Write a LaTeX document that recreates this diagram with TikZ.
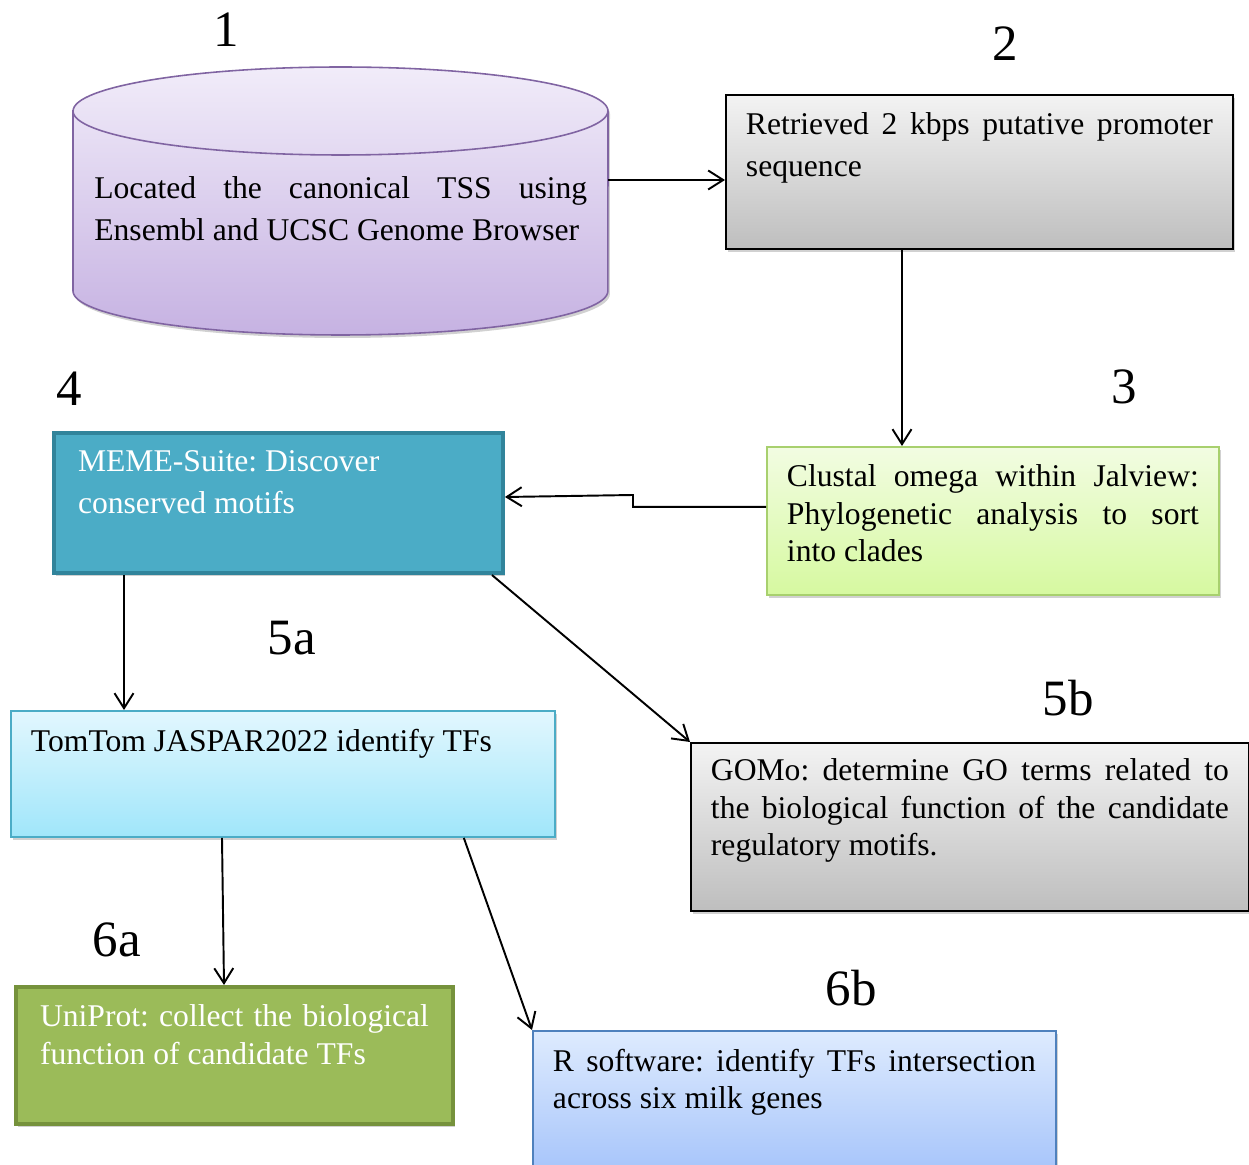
\documentclass[tikz,border=0pt]{standalone}
\usepackage{fontspec}
\setmainfont{Liberation Serif}
\usepackage{xcolor}
\definecolor{CylTop}{RGB}{241,236,249}
\definecolor{CylBot}{RGB}{198,178,226}
\definecolor{CylLine}{RGB}{128,100,162}
\definecolor{GrayTop}{RGB}{243,243,243}
\definecolor{GrayBot}{RGB}{190,190,190}
\definecolor{LimeTop}{RGB}{242,252,226}
\definecolor{LimeBot}{RGB}{214,249,160}
\definecolor{LimeLine}{RGB}{168,208,110}
\definecolor{Teal}{RGB}{75,172,198}
\definecolor{TealLine}{RGB}{49,132,155}
\definecolor{SkyTop}{RGB}{226,247,254}
\definecolor{SkyBot}{RGB}{160,230,250}
\definecolor{Olive}{RGB}{155,187,89}
\definecolor{OliveLine}{RGB}{118,146,60}
\definecolor{BlueTop}{RGB}{222,235,254}
\definecolor{BlueBot}{RGB}{163,194,250}
\definecolor{BlueLine}{RGB}{79,129,189}
\usepackage{tikz}
\usetikzlibrary{arrows.meta}
\usetikzlibrary{shadows}
\usetikzlibrary{calc}
\frenchspacing
\newcommand{\BoxFont}{\fontsize{18}{21.3}\selectfont}
\newcommand{\WideFont}{\fontsize{18}{23.8}\selectfont}
\newcommand{\StepFont}{\fontsize{29}{34}\selectfont}
\newcommand{\BoxText}[3]{\parbox[t][#2][t]{#1}{#3}}
\tikzstyle{Shadow}=[drop shadow={shadow xshift=.04cm,shadow yshift=-.06cm,
    opacity=.3,fill=black!60}]
\tikzstyle{Box}=[draw,anchor=north west,inner xsep=.4cm,inner ysep=.36cm,
line width=1.1pt,font=\BoxFont,Shadow]
\tikzstyle{GrayBox}=[Box,draw=black,top color=GrayTop,bottom color=GrayBot]
\tikzstyle{Arrow}=[draw,line width=1.1pt,
    -{Straight Barb[length=.3cm,width=.38cm]}]
\tikzstyle{StepNum}=[font=\StepFont]

\begin{document}
\begin{tikzpicture}[x=.02cm,y=-.02cm]
        \useasboundingbox(0,0)rectangle(1249,1165);
        % database cylinder
        \path[draw=CylLine,line width=.9pt,top color=CylTop,
            bottom color=CylBot,Shadow](73,111)--(73,291)
            arc[start angle=180,end angle=360,x radius=5.35cm,y radius=.88cm]
            --(608,111)
            arc[start angle=0,end angle=180,x radius=5.35cm,y radius=.88cm]
            --cycle;
        \draw[CylLine,line width=.9pt](73,111)
            arc[start angle=180,end angle=360,x radius=5.35cm,y radius=.88cm];
        \node[anchor=north west,inner sep=0pt,font=\WideFont](tss)at(94,176)
            {\parbox[t]{9.86cm}{Located the canonical TSS using\linebreak
            Ensembl and UCSC Genome Browser}};
        \coordinate(tssE)at(608,180);
        \node[GrayBox,font=\WideFont](ret)at(725,94)
            {\BoxText{9.34cm}{2.36cm}{Retrieved 2 kbps putative
            promoter\linebreak sequence}};
        \node[Box,draw=LimeLine,top color=LimeTop,bottom color=LimeBot]
            (clustal)at(766,446){\BoxText{8.24cm}{2.24cm}{Clustal omega
            within Jalview:\linebreak Phylogenetic analysis to
            sort\linebreak into clades}};
        \node[Box,draw=TealLine,fill=Teal,line width=2.3pt,text=white,
            inner xsep=.48cm,font=\WideFont](meme)at(52,431)
            {\BoxText{8.02cm}{2.08cm}{MEME-Suite: Discover\newline
            conserved motifs}};
        \node[Box,draw=Teal,top color=SkyTop,bottom color=SkyBot]
            (tomtom)at(10,710){\BoxText{10.08cm}{1.8cm}{TomTom JASPAR2022
            identify TFs}};
        \node[GrayBox,inner ysep=.32cm](gomo)at(690,742)
            {\BoxText{10.36cm}{2.72cm}{GOMo: determine GO terms related
            to\linebreak the biological function of the
            candidate\linebreak regulatory motifs.}};
        \node[Box,draw=OliveLine,fill=Olive,line width=2.3pt,text=white,
            inner xsep=.48cm](uniprot)at(14,985)
            {\BoxText{7.78cm}{2.02cm}{UniProt: collect the
            biological\linebreak function of candidate TFs}};
        \node[Box,draw=BlueLine,top color=BlueTop,bottom color=BlueBot]
            (rsoft)at(532,1030){\BoxText{9.66cm}{2.28cm}{R software:
            identify TFs intersection\linebreak across six milk genes}};
        % step numbers
        \node[StepNum](n1)at(226,30){1};
        \node[StepNum](n2)at(1005,44){2};
        \node[StepNum](n3)at(1124,387){3};
        \node[StepNum](n4)at(69,389){4};
        \node[StepNum](n5a)at(292,638){5a};
        \node[StepNum](n5b)at(1068,698){5b};
        \node[StepNum](n6a)at(117,940){6a};
        \node[StepNum](n6b)at(851,988){6b};
        % connectors
        \draw[Arrow](tssE)--(tssE-|ret.west);
        \draw[Arrow]($(ret.south west)+(177,0)$)
            --($(clustal.north west)+(136,0)$);
        \draw[Arrow]($(clustal.west)+(0,-14)$)-|(633,495)
            --($(meme.east)+(0,-6)$);
        \draw[Arrow]($(meme.south west)+(72,0)$)
            --($(tomtom.north west)+(114,0)$);
        \draw[Arrow]($(meme.south east)+(-13,0)$)--(gomo.north west);
        \draw[Arrow]($(tomtom.south west)+(212,0)$)
            --($(uniprot.north west)+(210,0)$);
        \draw[Arrow]($(tomtom.south east)+(-92,0)$)--(rsoft.north west);
    \end{tikzpicture}
\end{document}
